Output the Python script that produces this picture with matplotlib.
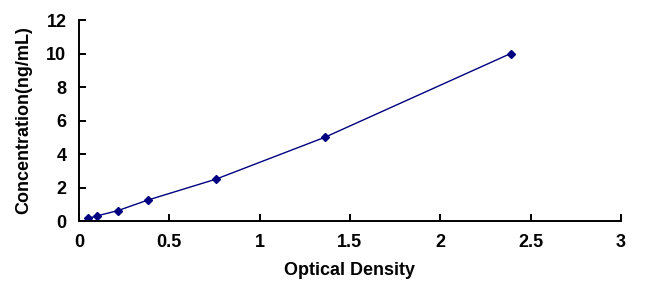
import matplotlib as mpl
import matplotlib.pyplot as plt

mpl.rcParams.update({
    "font.family": ["Liberation Sans", "DejaVu Sans"],
    "font.size": 13,
    "font.weight": "bold",
})

# standard curve readings
od = [0.05, 0.10, 0.216, 0.38, 0.758, 1.361, 2.39]
conc = [0.156, 0.312, 0.625, 1.25, 2.5, 5, 10]
x_ticks = [0, 0.5, 1, 1.5, 2, 2.5, 3]
x_tick_labels = ["0", "0.5", "1", "1.5", "2", "2.5", "3"]
y_ticks = [0, 2, 4, 6, 8, 10, 12]

fig = plt.figure(figsize=(6.69, 2.86), dpi=100)
ax = fig.add_axes([0.118, 0.227, 0.810, 0.703])

ax.plot(od, conc, color="#000080", linewidth=1.0, marker="D",
        markersize=4, markerfacecolor="#000080", markeredgecolor="#000080")

ax.set_xlim(0, 3)
ax.set_ylim(0, 12)
ax.set_xticks(x_ticks)
ax.set_xticklabels(x_tick_labels)
ax.set_yticks(y_ticks)

for side in ["top", "right"]:
    ax.spines[side].set_visible(False)
for side in ["left", "bottom"]:
    ax.spines[side].set_linewidth(1.4)

ax.tick_params(direction="in", length=5, width=1.4, pad=9, labelsize=13)
for lbl in ax.get_xticklabels() + ax.get_yticklabels():
    lbl.set_fontweight("bold")

ax.set_xlabel("Optical Density", fontweight="bold", labelpad=8)
ax.set_ylabel("Concentration(ng/mL)", fontweight="bold", labelpad=10)

fig.savefig("out.png", dpi=100)
